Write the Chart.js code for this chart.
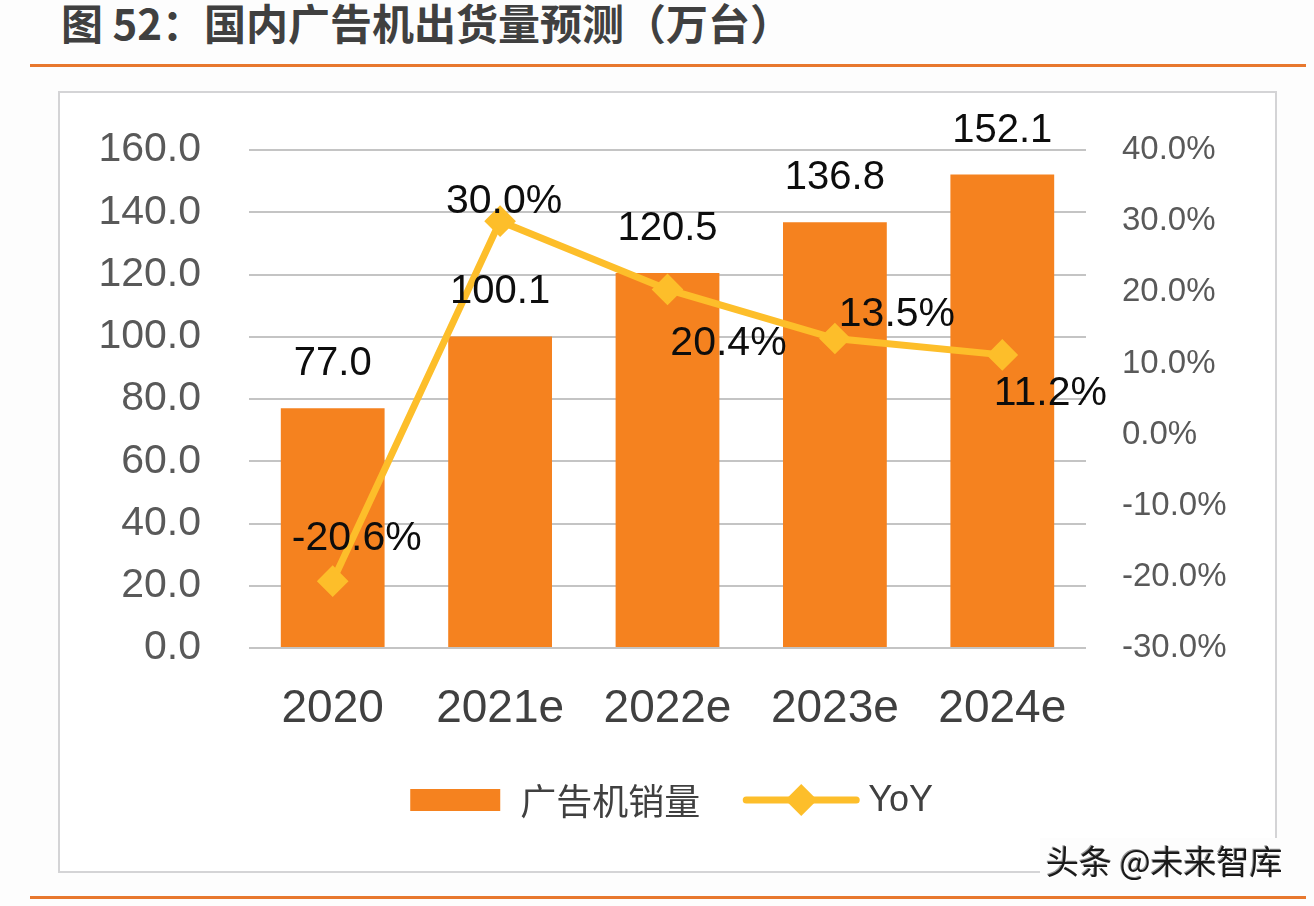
<!DOCTYPE html>
<html>
<head>
<meta charset="utf-8">
<script src="https://cdn.jsdelivr.net/npm/chart.js@4"></script>
<style>
  body { margin: 0; background: #fdfdfd; width: 1314px; height: 906px; overflow: hidden; position: relative; }
  #title {
    position: absolute; left: 61px; top: -3px;
    font-family: "Noto Sans CJK SC", sans-serif; font-weight: 700;
    font-size: 42px; line-height: 50px; color: #404040; white-space: nowrap;
  }
  .rule { position: absolute; left: 30px; width: 1276px; height: 3px; background: #E8782E; }
  #frame { position: absolute; left: 58px; top: 91px; width: 1215px; height: 778px; border: 2px solid #d4d4d6; background: #fff; }
  #wrap { position: absolute; left: 0; top: 0; width: 1314px; height: 906px; }
  #mark {
    position: absolute; left: 1040px; top: 838px; padding: 0 6px;
    font-family: "Noto Sans CJK SC", sans-serif; font-size: 33px; line-height: 44px;
    color: #1a1a1a; background: #fdfdfd; text-shadow: 1px 1px 0 #fff, -1px -1px 0 #999;
  }
</style>
</head>
<body>
<div id="title">图 52：国内广告机出货量预测（万台）</div>
<div class="rule" style="top:64px"></div>
<div id="frame"></div>
<div class="rule" style="top:896px"></div>
<div id="wrap"><canvas id="chart"></canvas></div>
<div id="mark">头条 @未来智库</div>
<script>
// DATA
const years = ['2020', '2021e', '2022e', '2023e', '2024e'];
const shipments = [77.0, 100.1, 120.5, 136.8, 152.1];
const yoy = [-20.6, 30.0, 20.4, 13.5, 11.2];
const leftTicks = { min: 0, max: 160, step: 20 };
const rightTicks = { min: -30, max: 40, step: 10 };

// label placement for the YoY values, relative to each point
const yoyLabelOffsets = [[24, -31], [4, -8], [61, 66], [62, -13], [48, 50]];

const barColor = '#F5821F';
const lineColor = '#FDBE2A';
const numFont = '"Liberation Sans", Arial, sans-serif';
const cjkFont = '"Noto Sans CJK SC", sans-serif';

const valueLabels = {
  id: 'valueLabels',
  afterDatasetsDraw(chart) {
    const ctx = chart.ctx;
    ctx.save();
    ctx.fillStyle = '#0d0d0d';
    ctx.font = '40px ' + numFont;
    ctx.textAlign = 'center';
    ctx.textBaseline = 'alphabetic';
    chart.getDatasetMeta(0).data.forEach((bar, i) => {
      ctx.fillText(shipments[i].toFixed(1), bar.x, bar.y - 33);
    });
    ctx.font = '41px ' + numFont;
    chart.getDatasetMeta(1).data.forEach((pt, i) => {
      const [dx, dy] = yoyLabelOffsets[i];
      ctx.fillText(yoy[i].toFixed(1) + '%', pt.x + dx, pt.y + dy);
    });
    ctx.restore();
  },
};

const legendBox = {
  id: 'legendBox',
  afterDraw(chart) {
    const ctx = chart.ctx;
    const area = chart.chartArea;
    const ds = chart.data.datasets;
    const y = area.bottom + 152;
    ctx.save();
    ctx.font = '36px ' + cjkFont;
    const w1 = ctx.measureText(ds[0].label).width;
    const w2 = ctx.measureText(ds[1].label).width;
    const total = 90 + 20 + w1 + 46 + 110 + 12 + w2;
    let x = (area.left + area.right) / 2 - total / 2;
    ctx.fillStyle = barColor;
    ctx.fillRect(x, y - 11, 90, 22);
    x += 90 + 20;
    ctx.fillStyle = '#404040';
    ctx.textBaseline = 'middle';
    ctx.fillText(ds[0].label, x, y + 1);
    x += w1 + 46;
    ctx.strokeStyle = lineColor;
    ctx.lineWidth = 7;
    ctx.lineCap = 'round';
    ctx.beginPath();
    ctx.moveTo(x, y);
    ctx.lineTo(x + 110, y);
    ctx.stroke();
    ctx.fillStyle = lineColor;
    ctx.beginPath();
    ctx.moveTo(x + 55, y - 16);
    ctx.lineTo(x + 71, y);
    ctx.lineTo(x + 55, y + 16);
    ctx.lineTo(x + 39, y);
    ctx.closePath();
    ctx.fill();
    x += 110 + 12;
    ctx.fillStyle = '#404040';
    ctx.font = '36px ' + numFont;
    ctx.fillText(ds[1].label, x, y + 1);
    ctx.restore();
  },
};

const chart = new Chart(document.querySelector('#chart'), {
  data: {
    labels: years,
    datasets: [
      {
        type: 'bar',
        label: '广告机销量',
        data: shipments,
        backgroundColor: barColor,
        barPercentage: 0.62,
        categoryPercentage: 1.0,
        yAxisID: 'y',
        order: 2,
      },
      {
        type: 'line',
        label: 'YoY',
        data: yoy,
        borderColor: lineColor,
        borderWidth: 7,
        pointStyle: 'rectRot',
        pointRadius: 13,
        pointBackgroundColor: lineColor,
        pointBorderColor: lineColor,
        pointBorderWidth: 4,
        tension: 0,
        yAxisID: 'y1',
        order: 1,
      },
    ],
  },
  options: {
    responsive: true,
    maintainAspectRatio: false,
    animation: false,
    layout: { padding: { top: 150, bottom: 138, left: 0, right: 0 } },
    plugins: {
      legend: { display: false },
      tooltip: { enabled: false },
    },
    scales: {
      x: {
        grid: { display: false },
        border: { display: false },
        ticks: { font: { family: numFont, size: 46 }, color: '#404040', padding: 26 },
        afterFit: (s) => { s.height = 120; },
      },
      y: {
        position: 'left',
        min: leftTicks.min,
        max: leftTicks.max,
        ticks: {
          stepSize: leftTicks.step,
          callback: (v) => v.toFixed(1),
          font: { family: numFont, size: 41 },
          color: '#595959',
          padding: 48,
        },
        grid: { color: '#c4c4c4', lineWidth: 2, drawTicks: false },
        border: { display: false },
        afterFit: (s) => { s.width = 249; },
      },
      y1: {
        position: 'right',
        min: rightTicks.min,
        max: rightTicks.max,
        ticks: {
          stepSize: rightTicks.step,
          callback: (v) => v.toFixed(1) + '%',
          font: { family: numFont, size: 33 },
          color: '#595959',
          padding: 36,
        },
        grid: { display: false, drawTicks: false },
        border: { display: false },
        afterFit: (s) => { s.width = 228; },
      },
    },
  },
  plugins: [valueLabels, legendBox],
});
</script>
</body>
</html>
